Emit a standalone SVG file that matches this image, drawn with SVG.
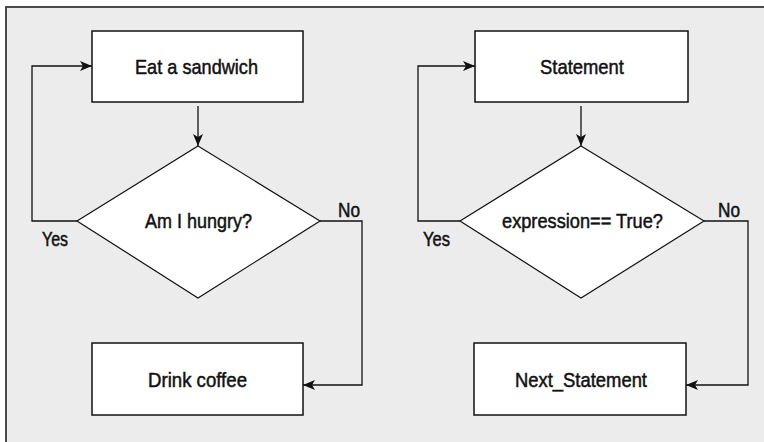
<svg xmlns="http://www.w3.org/2000/svg" width="764" height="442" viewBox="0 0 764 442">
<style>
.box{fill:#fff;stroke:#111;stroke-width:1.5}
.dia{fill:#fff;stroke:#111;stroke-width:1.2}
.ln{fill:none;stroke:#111;stroke-width:1.3}
.t{font-family:"Liberation Sans",Arial,sans-serif;font-size:21px;fill:#111;stroke:#111;stroke-width:0.5;text-anchor:middle}
.lb{font-family:"Liberation Sans",Arial,sans-serif;font-size:20px;fill:#111;stroke:#111;stroke-width:0.5}
</style>
<defs>
<marker id="ah" viewBox="0 0 12 10" refX="12" refY="5" markerWidth="12" markerHeight="10" markerUnits="userSpaceOnUse" orient="auto">
<path d="M0,0 L12,5 L0,10 L3,5 Z" fill="#111"/>
</marker>
</defs>
<rect x="0" y="0" width="764" height="442" fill="#fff"/>
<rect x="6" y="7" width="758" height="435" fill="#ececec"/>
<path d="M6,442 V7 H764" fill="none" stroke="#4a4a4a" stroke-width="2"/>

<g id="connectors">
<path class="ln" d="M198,106 V146" marker-end="url(#ah)"/>
<path class="ln" d="M77,221 H32 V66 H92" marker-end="url(#ah)"/>
<path class="ln" d="M320,221 H362 V385 H303" marker-end="url(#ah)"/>
<path class="ln" d="M581,106 V146" marker-end="url(#ah)"/>
<path class="ln" d="M460,221 H418 V66 H475" marker-end="url(#ah)"/>
<path class="ln" d="M704,221 H748 V385 H686" marker-end="url(#ah)"/>
</g>

<g id="eat">
<rect class="box" x="92" y="31" width="211" height="71"/>
<text class="t" x="196.5" y="74" textLength="123" lengthAdjust="spacingAndGlyphs">Eat a sandwich</text>
</g>
<g id="hungry">
<polygon class="dia" points="198,146 320,221 198,298 77,221"/>
<text class="t" x="198.5" y="228" textLength="107" lengthAdjust="spacingAndGlyphs">Am I hungry?</text>
</g>
<g id="coffee">
<rect class="box" x="92" y="343" width="211" height="72"/>
<text class="t" x="197.5" y="387" textLength="99" lengthAdjust="spacingAndGlyphs">Drink coffee</text>
</g>
<g id="statement">
<rect class="box" x="475" y="31" width="213" height="71"/>
<text class="t" x="582" y="74" textLength="84" lengthAdjust="spacingAndGlyphs">Statement</text>
</g>
<g id="expr">
<polygon class="dia" points="581,146 704,221 581,298 460,221"/>
<text class="t" x="582.5" y="228" textLength="161" lengthAdjust="spacingAndGlyphs">expression== True?</text>
</g>
<g id="next">
<rect class="box" x="474" y="343" width="212" height="72"/>
<text class="t" x="581" y="387" textLength="132" lengthAdjust="spacingAndGlyphs">Next_Statement</text>
</g>
<g id="labels">
<text class="lb" x="42" y="246" textLength="26" lengthAdjust="spacingAndGlyphs">Yes</text>
<text class="lb" x="338" y="217" textLength="22" lengthAdjust="spacingAndGlyphs">No</text>
<text class="lb" x="423" y="246" textLength="27" lengthAdjust="spacingAndGlyphs">Yes</text>
<text class="lb" x="718" y="217" textLength="22" lengthAdjust="spacingAndGlyphs">No</text>
</g>
</svg>
